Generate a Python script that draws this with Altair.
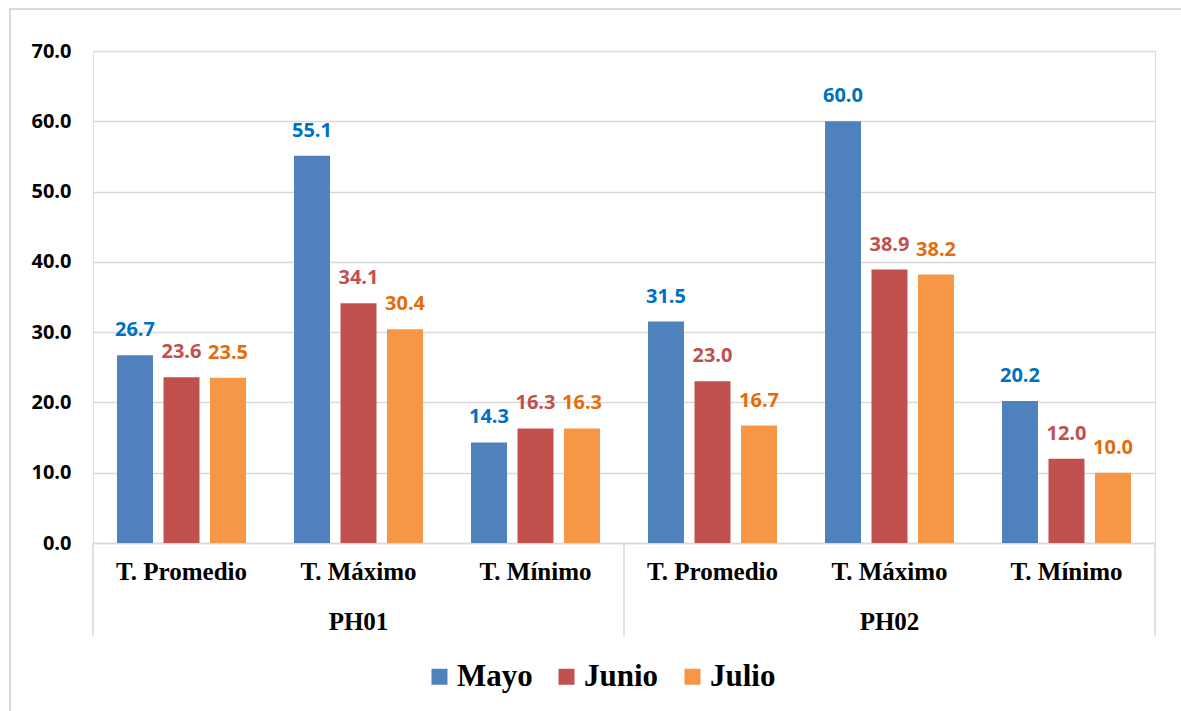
import altair as alt
import pandas as pd

months = ["Mayo", "Junio", "Julio"]
stations = ["PH01", "PH02"]
params = ["T. Promedio", "T. Máximo", "T. Mínimo"]
mayo = [26.7, 55.1, 14.3, 31.5, 60.0, 20.2]
junio = [23.6, 34.1, 16.3, 23.0, 38.9, 12.0]
julio = [23.5, 30.4, 16.3, 16.7, 38.2, 10.0]
y_ticks = [0, 10, 20, 30, 40, 50, 60, 70]

bar_colors = ["#4F81BD", "#C0504D", "#F79646"]
label_colors = ["#0070C0", "#C0504D", "#E46C0A"]

cats = [f"{s}|{p}" for s in stations for p in params]
rows = []
for m, vals in zip(months, [mayo, junio, julio]):
    for c, v in zip(cats, vals):
        rows.append({"cat": c, "mes": m, "valor": v})
df = pd.DataFrame(rows)

W, H = 1062, 492

x_enc = alt.X(
    "cat:N",
    sort=cats,
    scale=alt.Scale(domain=cats, paddingInner=0, paddingOuter=0),
    axis=alt.Axis(
        title=None,
        labelExpr="split(datum.label, '|')[1]",
        labelAngle=0,
        labelFont="Liberation Serif",
        labelFontWeight="bold",
        labelFontSize=25,
        labelColor="#000000",
        labelPadding=16,
        ticks=False,
        domainColor="#D9D9D9",
        domainWidth=1.5,
        grid=False,
    ),
)
xoff = alt.XOffset(
    "mes:N",
    sort=months,
    scale=alt.Scale(domain=months, paddingInner=0.226, paddingOuter=0.516),
)
y_enc = alt.Y(
    "valor:Q",
    scale=alt.Scale(domain=[0, 70], nice=False),
    axis=alt.Axis(
        title=None,
        values=y_ticks,
        format=".1f",
        labelFont="Open Sans",
        labelFontWeight="bold",
        labelFontSize=20,
        labelColor="#000000",
        labelPadding=22,
        ticks=False,
        domain=False,
        gridColor="#D9D9D9",
        gridWidth=1.5,
    ),
)

bars = alt.Chart(df).mark_bar().encode(
    x=x_enc,
    xOffset=xoff,
    y=y_enc,
    color=alt.Color(
        "mes:N",
        sort=months,
        scale=alt.Scale(domain=months, range=bar_colors),
        legend=alt.Legend(
            title=None,
            orient="none",
            direction="horizontal",
            legendX=331,
            legendY=610,
            symbolType="square",
            symbolSize=256,
            symbolStrokeWidth=0,
            symbolOpacity=1,
            labelFont="Liberation Serif",
            labelFontWeight="bold",
            labelFontSize=31,
            labelColor="#000000",
            labelOffset=2,
            columnPadding=18,
            padding=0,
        ),
    ),
)

texts = alt.Chart(df).mark_text(
    font="Open Sans", fontWeight="bold", fontSize=20, baseline="alphabetic", dy=-19
).encode(
    x=alt.X("cat:N", sort=cats),
    xOffset=alt.XOffset("mes:N", sort=months),
    y="valor:Q",
    text=alt.Text("valor:Q", format=".1f"),
    color=alt.Color(
        "mes:N", sort=months,
        scale=alt.Scale(domain=months, range=label_colors), legend=None
    ),
)

st_df = pd.DataFrame({"cat": [f"{s}|{params[1]}" for s in stations], "st": stations})
st_text = alt.Chart(st_df).mark_text(
    font="Liberation Serif", fontWeight="bold", fontSize=25, baseline="alphabetic", color="#000000"
).encode(
    x=alt.X("cat:N", sort=cats),
    y=alt.value(H + 87),
    text="st:N",
)

one = alt.Data(values=[{}])
seps = [
    alt.Chart(one).mark_rule(color="#D9D9D9", strokeWidth=1.5).encode(
        x=alt.value(px), y=alt.value(H), y2=alt.value(H + 93)
    )
    for px in [0, W / 2, W]
]

border = alt.Chart(one).mark_rect(fill=None, stroke="#D9D9D9", strokeWidth=2).encode(
    x=alt.value(-83), x2=alt.value(W + 60), y=alt.value(-42), y2=alt.value(H + 220)
)

chart = alt.layer(border, bars, texts, st_text, *seps).resolve_scale(
    color="independent"
).properties(
    width=W,
    height=H,
    padding={"left": 93, "top": 51, "right": 26, "bottom": 168},
    autosize=alt.AutoSizeParams(type="none"),
).configure_view(stroke=None).configure(background="#FFFFFF")

chart.save("out.html", embed_options={"renderer": "svg", "actions": False})
